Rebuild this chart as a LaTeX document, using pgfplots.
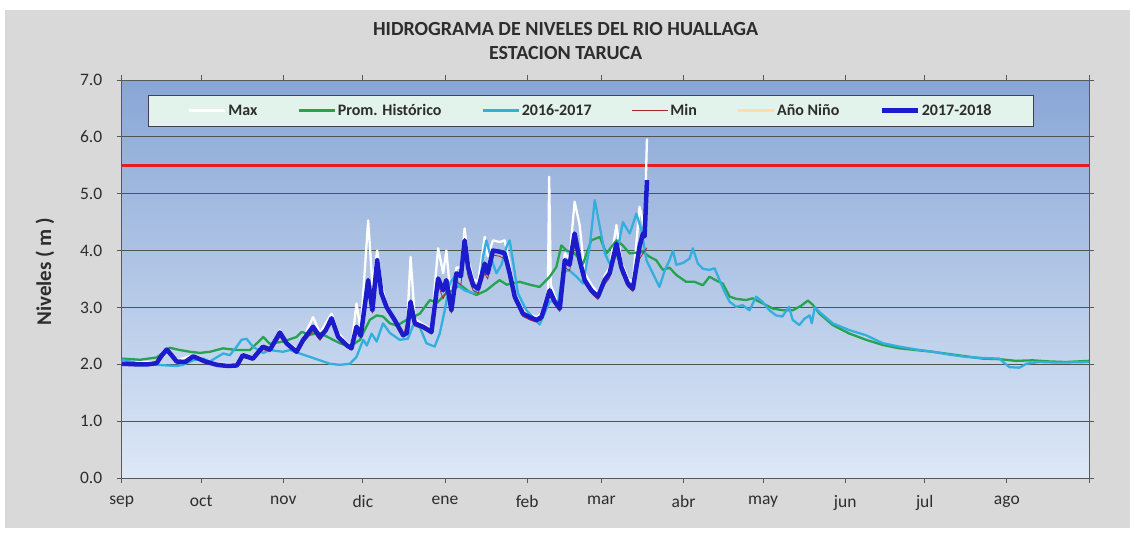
\documentclass[border=0pt]{standalone}
\usepackage{pgfplots}
\pgfplotsset{compat=1.18}
\usepackage{fontspec}
\setmainfont{Carlito}
\definecolor{promc}{RGB}{38,163,78}
\definecolor{cyanc}{RGB}{51,175,222}
\definecolor{minc}{RGB}{160,40,40}
\definecolor{ninoc}{RGB}{250,225,160}
\definecolor{bluec}{RGB}{28,28,205}
\definecolor{redc}{RGB}{225,30,40}
\definecolor{outerbg}{RGB}{217,217,217}
\definecolor{legfill}{RGB}{226,243,236}
\definecolor{legdraw}{RGB}{64,64,80}
\definecolor{plottop}{RGB}{136,166,214}
\definecolor{plotbot}{RGB}{221,232,247}
\definecolor{txt}{RGB}{45,45,45}
\begin{document}
\begin{tikzpicture}
% page and outer chart background (1 bp = 1 px)
\path[use as bounding box, fill=white] (-121.7bp,-56bp) rectangle (1011.3bp,478bp);
\fill[outerbg] (-116.7bp,-50bp) rectangle (1008.3bp,468bp);
\begin{axis}[
  scale only axis,
  width=967.3bp, height=398bp,
  xmin=0, xmax=365, ymin=0, ymax=7,
  axis background/.style={top color=plottop, bottom color=plotbot},
  xtick={0,30,61,91,122,153,181,212,242,273,303,334,365},
  xticklabels={sep,oct,nov,dic,ene,feb,mar,abr,may,jun,jul,ago,},
  ytick={0,1,2,3,4,5,6,7},
  yticklabel style={/pgf/number format/fixed, /pgf/number format/fixed zerofill, /pgf/number format/precision=1, xshift=-11bp},
  /pgf/number format/assume math mode=true,
  tick label style={font=\fontsize{17.5bp}{19bp}\selectfont, text=txt},
  xticklabel style={yshift=-9bp},
  tick align=outside,
  major tick length=5bp,
  tick style={gray!70!black, line width=0.8bp},
  axis line style={gray!70!black, line width=0.8bp},
  ymajorgrids,
  grid style={gray!65!black, line width=0.8bp},
  ylabel={Niveles ( m )},
  ylabel style={font=\fontsize{21bp}{23bp}\selectfont\bfseries, text=txt, at={(axis description cs:-0.0793,0.518)}, anchor=center},
  title={HIDROGRAMA DE NIVELES DEL RIO HUALLAGA\\ESTACION TARUCA},
  title style={font=\fontsize{20bp}{24bp}\selectfont\bfseries, text=txt, align=center, at={(axis description cs:0.459,1.083)}, anchor=center},
  legend columns=6,
  legend style={at={(axis description cs:0.485,0.923)}, anchor=center,
    fill=legfill, draw=legdraw, line width=0.8bp,
    font=\fontsize{16bp}{18bp}\selectfont\bfseries, text=txt,
    inner xsep=40bp, inner ysep=7bp,
    /tikz/every even column/.append style={column sep=38bp}},
  legend image code/.code={\draw[#1] (0bp,0bp) -- (36bp,0bp);},
  every axis plot/.append style={line join=round},
]
\addplot[redc, line width=3.5bp, forget plot] coordinates {(0,5.5) (365,5.5)};

\addplot[white, line width=2.3bp] coordinates {
(0,2.03) (13.2,2.04) (17,2.28) (20.7,2.07) (27,2.16) (36,2.01) (43.5,2.00) (45.7,2.18) (49.5,2.12) (53.3,2.33) (56,2.28) (59.7,2.60) (62.2,2.40) (66,2.26) (68.5,2.46) (72.2,2.83) (74.8,2.55) (79.2,2.89) (81.7,2.55) (84.8,2.38) (86.7,2.32) (88.6,3.07) (90.2,2.60) (93,4.53) (94.6,3.40) (96.4,4.00) (98,3.40) (99.9,3.05) (103,2.82) (106.2,2.55) (107.6,2.60) (109,3.89) (110.6,2.80) (113.7,2.70) (116.9,2.62) (118,3.30) (119.4,4.04) (121.3,3.60) (122.5,4.00) (124.4,3.05) (126.3,3.70) (128,3.70) (129.4,4.39) (130.7,3.85) (132.6,3.50) (134.5,3.45) (137,4.24) (138.1,3.90) (140.1,4.18) (142.6,4.15) (144.5,4.18) (146.4,3.75) (148.3,3.25) (151.4,2.95) (154,2.88) (156.5,2.83) (158.4,2.90) (159.6,3.10) (160.8,3.25) (161.3,5.30) (161.9,3.40) (163.4,3.20) (165.3,3.05) (167.2,3.95) (169,3.85) (170.9,4.86) (172.8,4.45) (174.7,3.60) (177.2,3.40) (179.7,3.25) (182.2,3.55) (184.1,3.70) (186.7,4.45) (188.5,3.80) (191,3.50) (192.9,3.45) (195.4,4.77) (196.7,4.50) (197.3,4.40) (198.2,5.97)
};
\addlegendentry{Max}

\addplot[promc, line width=2.3bp] coordinates {
(0,2.10) (6.9,2.08) (13.2,2.12) (18.2,2.29) (22,2.25) (25.8,2.22) (29.5,2.20) (33.3,2.22) (38.2,2.28) (43.5,2.25) (48.4,2.25) (53.4,2.48) (55.9,2.36) (60.8,2.40) (66,2.48) (67.9,2.57) (71,2.52) (74.8,2.55) (79.8,2.43) (82.3,2.37) (86.1,2.31) (89.9,2.43) (93.6,2.78) (96.2,2.86) (98.6,2.84) (101.2,2.72) (103.8,2.68) (107.5,2.78) (112.5,2.89) (116.3,3.13) (118.9,3.08) (122.5,3.25) (125,3.30) (127.6,3.40) (131.3,3.27) (133.9,3.22) (137.6,3.30) (140.8,3.42) (142.6,3.48) (145.3,3.40) (150.2,3.45) (154,3.40) (157.7,3.36) (161.5,3.54) (164,3.71) (165.9,4.09) (167.9,4.00) (170.9,3.95) (174.1,3.77) (177.2,4.18) (180.4,4.24) (182.9,3.95) (186.7,4.18) (189.1,4.09) (191.7,3.95) (196.7,3.98) (199.2,3.89) (201.7,3.83) (204.2,3.66) (206.7,3.70) (209.3,3.57) (213,3.45) (216.2,3.45) (219.3,3.39) (221.8,3.54) (224.1,3.48) (226.8,3.42) (229.4,3.19) (231.9,3.15) (235.7,3.13) (238,3.16) (241.9,3.07) (245.7,2.98) (249.5,2.95) (253.2,2.95) (256.4,3.03) (258.9,3.12) (260.7,3.05) (263.3,2.89) (268.3,2.69) (274.6,2.54) (280.9,2.43) (287.2,2.34) (293.5,2.28) (299.8,2.25) (306,2.22) (312.3,2.18) (318.6,2.14) (324.9,2.10) (331.2,2.09) (337.5,2.06) (343.7,2.07) (350,2.05) (356.3,2.04) (365,2.06)
};
\addlegendentry{Prom. Histórico}

\addplot[cyanc, line width=2.3bp] coordinates {
(0,2.08) (3.1,2.05) (8,2.00) (13.2,1.99) (20.7,1.97) (23.1,1.99) (27,2.07) (30.7,2.10) (33.3,2.05) (35.8,2.12) (38.3,2.19) (40.8,2.16) (43.4,2.31) (45.2,2.43) (47.1,2.45) (49.5,2.31) (53.4,2.20) (55.9,2.25) (60.9,2.22) (63.5,2.25) (67.2,2.19) (71,2.13) (74.8,2.07) (78.5,2.01) (82.3,1.99) (86.1,2.01) (88.6,2.13) (91.1,2.43) (92.5,2.33) (94.3,2.54) (96.2,2.40) (98.6,2.72) (101.2,2.55) (104.9,2.43) (108,2.45) (110,2.69) (112.5,2.65) (115,2.37) (118.1,2.31) (120,2.54) (121.9,2.95) (123.8,3.42) (125.7,3.55) (127.6,3.36) (129.4,3.30) (132.6,3.25) (135.1,3.35) (136.3,3.89) (137.6,4.18) (139.5,3.85) (141.4,3.60) (143.3,3.75) (145.2,4.07) (146.4,4.18) (147.7,3.80) (149.5,3.25) (152.7,2.95) (155.2,2.83) (157.7,2.70) (159.6,2.90) (161.5,3.10) (163.4,3.13) (164.5,3.05) (166.5,3.63) (169,3.65) (171.6,3.54) (174.1,3.42) (176.6,4.07) (178.5,4.89) (180.4,4.42) (182.3,3.95) (184.1,3.77) (186.7,3.90) (189.1,4.50) (191.7,4.30) (194.2,4.65) (196.1,4.36) (198,3.83) (200.4,3.60) (202.9,3.36) (204.9,3.65) (206.7,3.83) (208,4.00) (209.3,3.75) (211.7,3.78) (214.3,3.86) (215.5,4.04) (217.4,3.77) (219.3,3.68) (221.8,3.66) (223.7,3.69) (225.6,3.48) (227.5,3.27) (229.4,3.10) (231.9,3.01) (234.3,3.04) (236.9,2.95) (239.4,3.19) (241.8,3.10) (244.4,2.95) (246.9,2.86) (249.3,2.84) (251.8,3.01) (253.2,2.78) (255.7,2.69) (257.6,2.80) (259.6,2.86) (260.4,2.72) (261.5,3.00) (263.3,2.92) (268.3,2.72) (274.6,2.60) (280.9,2.51) (287.2,2.37) (293.5,2.31) (299.8,2.26) (306,2.22) (312.3,2.17) (318.6,2.13) (324.9,2.11) (331.2,2.10) (333.1,2.02) (335,1.95) (338.7,1.94) (341.4,2.01) (346.2,2.04) (353.7,2.03) (365,2.04)
};
\addlegendentry{2016-2017}

\addplot[minc, line width=0.8bp] coordinates {
(0,1.99) (13.2,2.00) (17,2.22) (20.7,2.02) (27,2.11) (36,1.97) (43.5,1.96) (45.7,2.12) (49.5,2.07) (53.3,2.26) (56,2.22) (59.7,2.48) (62.2,2.33) (66,2.19) (68.5,2.38) (72.2,2.58) (74.8,2.42) (79.2,2.72) (81.7,2.44) (84.8,2.30) (86.7,2.25) (88.6,2.58) (90.2,2.47) (93,3.35) (94.6,2.90) (96.4,3.70) (98,3.20) (99.9,2.96) (103,2.74) (106.2,2.48) (109,3.00) (110.6,2.68) (113.7,2.62) (116.9,2.53) (119.4,3.40) (121.3,3.15) (122.5,3.30) (124.4,2.90) (126.3,3.45) (128,3.40) (129.4,3.95) (130.7,3.55) (132.6,3.30) (134.5,3.25) (137,3.60) (138.1,3.50) (140.1,3.92) (142.6,3.90) (144.5,3.85) (146.4,3.50) (148.3,3.12) (151.4,2.84) (154,2.78) (156.5,2.74) (158.4,2.78) (159.6,2.95) (161.5,3.20) (163.4,3.05) (165.3,2.93) (167.2,3.70) (169,3.65) (170.9,4.10) (172.8,3.75) (174.7,3.42) (177.2,3.25) (179.7,3.14) (182.2,3.40) (184.1,3.52) (186.7,3.95) (188.5,3.62) (191,3.36) (192.9,3.28) (195.4,3.85) (196.7,3.95) (198.2,4.05)
};
\addlegendentry{Min}

\addlegendimage{ninoc, line width=2.3bp}
\addlegendentry{Año Niño}

\addplot[bluec, line width=4.5bp] coordinates {
(0,2.01) (5,2.00) (10,2.00) (13.2,2.02) (15,2.15) (17,2.26) (19,2.15) (20.7,2.05) (23.9,2.04) (27,2.14) (29,2.10) (31.4,2.05) (36,1.99) (40,1.97) (43.5,1.98) (45.7,2.16) (49.5,2.10) (53.3,2.31) (56,2.26) (59.7,2.56) (62.2,2.37) (66,2.22) (68.5,2.43) (72.2,2.66) (74.8,2.48) (77,2.60) (79.2,2.81) (81.7,2.48) (84.8,2.34) (86.7,2.28) (88.6,2.66) (90.2,2.50) (93,3.48) (94.6,2.95) (96.4,3.83) (98,3.25) (99.9,3.01) (103,2.78) (106.2,2.51) (107.6,2.55) (109,3.10) (110.6,2.72) (113.7,2.66) (116.9,2.57) (119.4,3.51) (121.3,3.30) (122.5,3.48) (124.4,2.95) (126.3,3.60) (128,3.55) (129.4,4.18) (130.7,3.71) (132.6,3.39) (134.5,3.33) (137,3.77) (138.1,3.60) (140.1,4.00) (142.6,3.98) (144.5,3.95) (146.4,3.60) (148.3,3.19) (151.4,2.89) (154,2.83) (156.5,2.78) (158.4,2.83) (159.6,3.01) (161.5,3.30) (163.4,3.10) (165.3,2.98) (167.2,3.83) (169,3.75) (170.9,4.30) (172.8,3.83) (174.7,3.48) (177.2,3.30) (179.7,3.19) (182.2,3.48) (184.1,3.60) (186.7,4.12) (188.5,3.71) (191,3.42) (192.9,3.33) (195.4,4.07) (196.7,4.30) (197.3,4.25) (198.2,5.24)
};
\addlegendentry{2017-2018}
\end{axis}
\end{tikzpicture}
\end{document}
